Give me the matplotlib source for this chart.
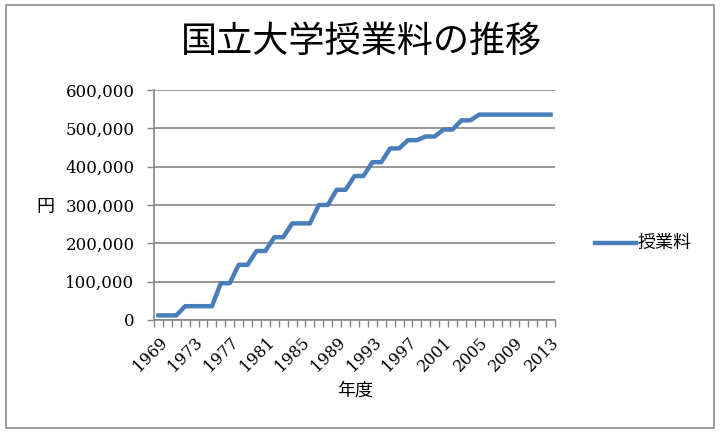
import matplotlib
matplotlib.use("Agg")
import matplotlib.pyplot as plt
from matplotlib.patches import Rectangle
from matplotlib.lines import Line2D
from matplotlib.ticker import FuncFormatter, FixedLocator

years = list(range(1969, 2014))
tuition = [12000, 12000, 12000, 36000, 36000, 36000, 36000, 96000, 96000,
           144000, 144000, 180000, 180000, 216000, 216000, 252000, 252000,
           252000, 300000, 300000, 339600, 339600, 375600, 375600, 411600,
           411600, 447600, 447600, 469200, 469200, 478800, 478800, 496800,
           496800, 520800, 520800, 535800, 535800, 535800, 535800, 535800,
           535800, 535800, 535800, 535800]
yticks = [0, 100000, 200000, 300000, 400000, 500000, 600000]
title = "国立大学授業料の推移"
series_name = "授業料"

plt.rcParams["font.family"] = ["DejaVu Serif"]
jp = ["Noto Sans CJK JP", "DejaVu Sans"]
blue = "#4A7EBB"
grid_c = "#868686"

fig = plt.figure(figsize=(7.2, 4.34), dpi=100)
fig.patches.append(Rectangle((6/720, 1-428/434), 708/720, 423/434,
                             transform=fig.transFigure, fill=False,
                             edgecolor="#8c8c8c", linewidth=1.2))

ax = fig.add_axes([154/720, 1-320/434, 401/720, 230/434])
x = list(range(len(years)))
ax.plot(x, tuition, color=blue, linewidth=3.2, solid_joinstyle="round")

ax.set_xlim(-0.5, len(years) - 0.5)
ax.set_ylim(0, 600000)
ax.set_yticks(yticks)
ax.yaxis.set_major_formatter(FuncFormatter(lambda v, p: f"{int(v):,}"))
ax.grid(axis="y", color=grid_c, linewidth=1.2)
ax.set_axisbelow(True)

major = list(range(0, len(years), 4))
ax.xaxis.set_major_locator(FixedLocator(major))
ax.set_xticklabels([str(years[i]) for i in major], rotation=45, ha="right",
                   rotation_mode="anchor", fontsize=11.5)
ax.xaxis.set_minor_locator(FixedLocator([i - 0.5 for i in range(len(years) + 1)]))
ax.tick_params(axis="x", which="major", length=0, pad=10)
ax.tick_params(axis="x", which="minor", length=5, color=grid_c, width=1)
ax.tick_params(axis="y", length=5, color=grid_c, width=1, labelsize=12, pad=9)

for s in ["top", "right"]:
    ax.spines[s].set_visible(False)
for s in ["left", "bottom"]:
    ax.spines[s].set_color(grid_c)
    ax.spines[s].set_linewidth(1.2)

fig.text(362/720, 1-42/434, title, ha="center", va="center",
         fontfamily=jp, fontsize=26)
fig.text(45/720, 1-207/434, "円", ha="center", va="center",
         fontfamily=jp, fontsize=13)
fig.text(355/720, 1-391/434, "年度", ha="center", va="center",
         fontfamily=jp, fontsize=13)

fig.lines.append(Line2D([595/720, 636/720], [1-243/434, 1-243/434],
                        transform=fig.transFigure, color=blue, linewidth=3.2))
fig.text(638/720, 1-243/434, series_name, ha="left", va="center",
         fontfamily=jp, fontsize=13)

fig.savefig("out.png", dpi=100)
